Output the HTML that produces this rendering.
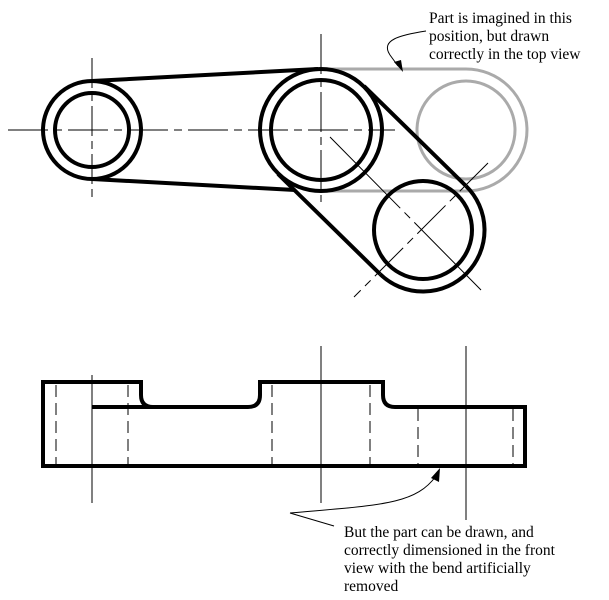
<!DOCTYPE html>
<html><head><style>
html,body{margin:0;padding:0;background:#fff;}
svg{display:block;}
text{font-family:"Liberation Serif",serif;font-size:15.5px;fill:#000;}
</style></head><body>
<svg width="609" height="600" viewBox="0 0 609 600" xmlns="http://www.w3.org/2000/svg">
<g stroke="#aaa" stroke-width="3" fill="none">
<circle cx="466" cy="130" r="49"/>
<path d="M321 69 L466 69 A61 61 0 0 1 466 191 L321 191"/>
</g>
<g stroke="#000" stroke-width="1" fill="none">
<line x1="8" y1="130" x2="395" y2="130" stroke-dasharray="40,6,8,6"/>
<line x1="92" y1="58" x2="92" y2="202" stroke-dasharray="30,5,8,5"/>
<line x1="321" y1="34" x2="321" y2="202" stroke-dasharray="40,5,8,5"/>
<line x1="330" y1="137" x2="481" y2="290" stroke-dasharray="100,6,8,6"/>
<line x1="488" y1="163" x2="354" y2="297" stroke-dasharray="40,6,8,6"/>
</g>
<g stroke="#000" stroke-width="4" fill="none">
<circle cx="92" cy="130" r="49"/>
<circle cx="92" cy="130" r="37"/>
<circle cx="321" cy="130" r="61"/>
<circle cx="321" cy="130" r="50"/>
<circle cx="423" cy="230" r="49"/>
<line x1="92" y1="81" x2="318" y2="69"/>
<line x1="92" y1="179" x2="295" y2="190"/>
<line x1="364" y1="86" x2="466" y2="186"/>
<line x1="278" y1="174" x2="380" y2="274"/>
<path d="M466 186 A61 61 0 0 1 380 274"/>
</g>
<path d="M426 31 C400 35 380 40 390 55 L398 66" stroke="#000" stroke-width="1" fill="none"/>
<polygon points="403,72 394,62 401,60" fill="#000"/>
<text x="429" y="23">Part is imagined in this</text>
<text x="429" y="41">position, but drawn</text>
<text x="429" y="59">correctly in the top view</text>
<g stroke="#000" stroke-width="1" fill="none">
<line x1="92" y1="375" x2="92" y2="503"/>
<line x1="321" y1="346" x2="321" y2="503"/>
<line x1="466" y1="346" x2="466" y2="520"/>
</g>
<g stroke="#000" stroke-width="1" fill="none" stroke-dasharray="12,6">
<line x1="56" y1="385" x2="56" y2="466"/>
<line x1="128" y1="385" x2="128" y2="466"/>
<line x1="272" y1="385" x2="272" y2="466"/>
<line x1="370" y1="385" x2="370" y2="466"/>
<line x1="418" y1="409" x2="418" y2="466"/>
<line x1="513" y1="409" x2="513" y2="466"/>
</g>
<g stroke="#000" stroke-width="4" fill="none">
<path d="M43 382 L141 382 L141 395 Q141 407 153 407 L248 407 Q260 407 260 395 L260 382 L383 382 L383 395 Q383 407 395 407 L525 407 L525 466 L43 466 Z"/>
<line x1="92" y1="407" x2="153" y2="407"/>
</g>
<path d="M290 513 C380 505 415 505 436 476" stroke="#000" stroke-width="1" fill="none"/>
<line x1="290" y1="513" x2="334" y2="526" stroke="#000" stroke-width="1"/>
<polygon points="440,468 439,482 431,478" fill="#000"/>
<text x="344" y="537">But the part can be drawn, and</text>
<text x="344" y="555">correctly dimensioned in the front</text>
<text x="344" y="573">view with the bend artificially</text>
<text x="344" y="591">removed</text>
</svg>
</body></html>
